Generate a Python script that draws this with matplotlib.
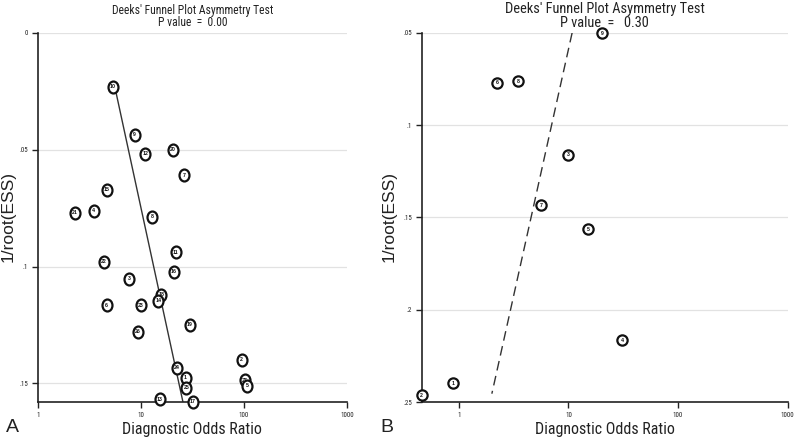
"""Deeks' funnel plot asymmetry test, two panels (A, B)."""
import matplotlib
matplotlib.use("Agg")
import matplotlib.pyplot as plt
from matplotlib.path import Path
from matplotlib.transforms import Affine2D

NARROW = ["Roboto Condensed", "Archivo Narrow", "Liberation Sans", "DejaVu Sans"]
REGULAR = ["Liberation Sans", "DejaVu Sans"]
plt.rcParams["font.family"] = REGULAR

# ---- panel A data: diagnostic odds ratio, 1/root(ESS), study label
a_dor = [5.3, 8.7, 11.0, 20.5, 26.2, 4.64, 2.29, 3.47, 12.8, 21.9, 4.34,
         20.8, 7.7, 15.8, 14.7, 4.64, 10.0, 29.7, 9.42, 94.9, 22.4, 27.1,
         101.5, 107.0, 27.7, 15.2, 32.0]
a_ess = [0.023, 0.0437, 0.0518, 0.0501, 0.0609, 0.0672, 0.0769, 0.0762,
         0.0786, 0.094, 0.0979, 0.1022, 0.1053, 0.112, 0.1147, 0.1166,
         0.1166, 0.125, 0.1279, 0.140, 0.1434, 0.1477, 0.1486, 0.1511,
         0.1518, 0.1568, 0.1578]
a_lab = ["10", "9", "12", "20", "7", "15", "21", "4", "8", "11", "22", "16",
         "3", "18", "14", "6", "23", "19", "26", "2", "24", "1", "27", "5",
         "25", "13", "17"]
a_line_x = [5.6, 25.6]
a_line_y = [0.0235, 0.158]

# ---- panel B data
b_dor = [20.4, 2.25, 3.45, 10.0, 5.59, 15.2, 31.1, 0.88, 0.457]
b_ess = [0.0502, 0.0771, 0.0761, 0.1161, 0.1434, 0.1564, 0.2165, 0.2397, 0.2464]
b_lab = ["9", "6", "8", "3", "7", "5", "4", "1", "2"]
b_line_x = [10.8, 2.0]
b_line_y = [0.05, 0.2455]

x_ticks = [1, 10, 100, 1000]
x_ticklabels = ["1", "10", "100", "1000"]
a_yticks = [0, 0.05, 0.1, 0.15]
a_yticklabels = ["0", ".05", ".1", ".15"]
b_yticks = [0.05, 0.1, 0.15, 0.2, 0.25]
b_yticklabels = [".05", ".1", ".15", ".2", ".25"]


def ellipse(ratio):
    return Path.unit_circle().transformed(Affine2D().scale(1.0, ratio))


def style(ax, yticks, yticklabels):
    ax.set_xscale("log")
    ax.set_xticks(x_ticks)
    ax.set_xticklabels(x_ticklabels, family=NARROW)
    ax.xaxis.set_minor_locator(matplotlib.ticker.NullLocator())
    ax.set_yticks(yticks)
    ax.set_yticklabels(yticklabels, family=NARROW)
    ax.tick_params(labelsize=5, length=4, width=1.0, colors="#222222", pad=3)
    for s in ("top", "right"):
        ax.spines[s].set_visible(False)
    for s in ("left", "bottom"):
        ax.spines[s].set_linewidth(1.2)
        ax.spines[s].set_color("#222222")
    ax.yaxis.grid(True, color="#e2e2e2", lw=0.9)
    ax.set_axisbelow(True)
    ax.set_xlabel("Diagnostic Odds Ratio", family=NARROW, fontsize=11.5,
                  color="#222222", labelpad=2)


def points(ax, xs, ys, labs, ratio, ms):
    ax.scatter(xs, ys, marker=ellipse(ratio), s=ms ** 2, facecolor="white",
               edgecolor="#111111", linewidths=1.6, zorder=3, clip_on=False)
    for x, y, t in zip(xs, ys, labs):
        ax.text(x, y, t, fontsize=3.8, ha="center", va="center",
                color="#111111", fontweight="bold", zorder=4, clip_on=False)


fig = plt.figure(figsize=(8.0, 4.41), dpi=100)
axA = fig.add_axes([0.0475, 0.0884, 0.386, 0.837])
axB = fig.add_axes([0.527, 0.0884, 0.4575, 0.837])

# (A)
style(axA, a_yticks, a_yticklabels)
axA.plot(a_line_x, a_line_y, color="#333333", lw=1.0, zorder=2)
points(axA, a_dor, a_ess, a_lab, 1.2, 8.6)
axA.set_xlim(1, 1000)
axA.set_ylim(0.158, 0)
axA.text(0.5, 1.06, "Deeks' Funnel Plot Asymmetry Test", transform=axA.transAxes,
         ha="center", va="center", family=NARROW, fontsize=8.4, color="#222222")
axA.text(0.5, 1.027, "P value  =  0.00", transform=axA.transAxes,
         ha="center", va="center", family=NARROW, fontsize=8.4, color="#222222")

# (B)
style(axB, b_yticks, b_yticklabels)
axB.plot(b_line_x, b_line_y, color="#333333", lw=1.0, ls=(0, (7, 4)), zorder=2)
points(axB, b_dor, b_ess, b_lab, 1.0, 7.4)
axB.set_xlim(0.457, 1000)
axB.set_ylim(0.25, 0.05)
axB.text(0.5, 1.066, "Deeks' Funnel Plot Asymmetry Test", transform=axB.transAxes,
         ha="center", va="center", family=NARROW, fontsize=10.4, color="#222222")
axB.text(0.5, 1.028, "P value  =   0.30", transform=axB.transAxes,
         ha="center", va="center", family=NARROW, fontsize=10.4, color="#222222")

# y labels and panel letters
fig.text(8 / 800, 1 - 217 / 441, "1/root(ESS)", rotation=90, ha="center",
         va="center", fontsize=12.5, color="#222222")
fig.text(389 / 800, 1 - 217 / 441, "1/root(ESS)", rotation=90, ha="center",
         va="center", fontsize=12.5, color="#222222")
fig.text(12 / 800, 1 - 427 / 441, "A", ha="center", va="center",
         fontsize=14, color="#222222")
fig.text(387 / 800, 1 - 427 / 441, "B", ha="center", va="center",
         fontsize=14, color="#222222")

fig.savefig("out.png", dpi=100, facecolor="white")
